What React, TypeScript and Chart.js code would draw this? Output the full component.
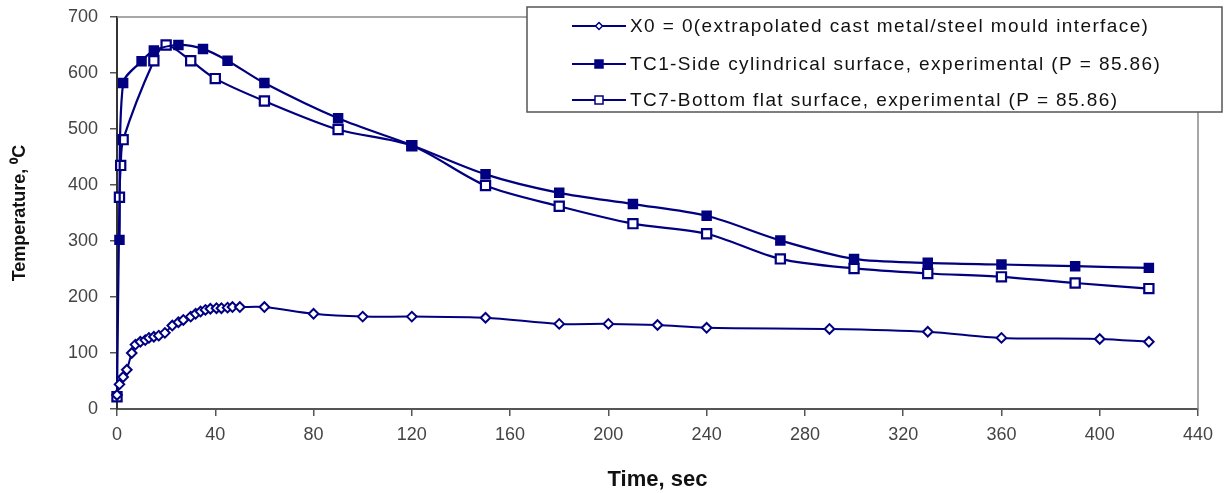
import React, { useEffect, useRef } from "react";
import { Chart, registerables } from "chart.js";

Chart.register(...registerables);

// ---- Data ----
const seriesLabels = [
  "X0 = 0(extrapolated cast metal/steel mould interface)",
  "TC1-Side cylindrical surface, experimental (P = 85.86)",
  "TC7-Bottom flat surface, experimental (P = 85.86)",
];

const x0Times = [0, 1, 2.5, 4, 6, 7.5, 9.5, 11.5, 13, 15, 17, 19.5, 22.5, 25, 27, 30, 32, 34, 36, 38, 40.5, 42.5, 45, 47, 50, 60, 80, 100, 120, 150, 180, 200, 220, 240, 290, 330, 360, 400, 420];
const x0Temps = [25, 44, 57, 70, 100, 115, 120, 123, 127, 129, 131, 136, 149, 155, 159, 165, 170, 174, 177, 179, 180, 180, 181, 182, 182, 182, 170, 165, 165, 163, 152, 152, 150, 145, 143, 138, 127, 125, 120];

const tc1Times = [1, 2.5, 10, 15, 25, 35, 45, 60, 90, 120, 150, 180, 210, 240, 270, 300, 330, 360, 390, 420];
const tc1Temps = [302, 582, 621, 640, 650, 643, 622, 582, 519, 471, 419, 386, 366, 345, 301, 268, 261, 258, 255, 252];

const tc7Times = [0, 1, 1.5, 2.5, 15, 20, 30, 40, 60, 90, 120, 150, 180, 210, 240, 270, 300, 330, 360, 390, 420];
const tc7Temps = [22, 378, 435, 481, 622, 650, 622, 590, 550, 499, 470, 399, 362, 331, 313, 268, 251, 242, 236, 225, 215];

const xTicks = [0, 40, 80, 120, 160, 200, 240, 280, 320, 360, 400, 440];
const yTicks = [0, 100, 200, 300, 400, 500, 600, 700];

const xTitle = "Time, sec";
const yTitle = "Temperature, \u2070C";

const NAVY = "#000080";
const FONT = "'Liberation Sans', Arial, sans-serif";

function toPoints(xs: number[], ys: number[]) {
  return xs.map((x, i) => ({ x, y: ys[i] }));
}

const frameAndLegend = {
  id: "frameAndLegend",
  beforeDatasetsDraw(chart: any) {
    const { ctx, chartArea } = chart;
    ctx.save();
    ctx.strokeStyle = "#8a8a8a";
    ctx.lineWidth = 1.5;
    ctx.beginPath();
    ctx.moveTo(chartArea.left, chartArea.top);
    ctx.lineTo(chartArea.right, chartArea.top);
    ctx.lineTo(chartArea.right, chartArea.bottom);
    ctx.stroke();
    ctx.restore();
  },
  afterDraw(chart: any) {
    const { ctx } = chart;
    const bx = 527, by = 7, bw = 695, bh = 105;
    ctx.save();
    ctx.fillStyle = "#ffffff";
    ctx.fillRect(bx, by, bw, bh);
    ctx.strokeStyle = "#555555";
    ctx.lineWidth = 1.5;
    ctx.strokeRect(bx, by, bw, bh);
    const rows = [26, 64, 100];
    chart.data.datasets.forEach((ds: any, i: number) => {
      const y = rows[i];
      ctx.strokeStyle = ds.borderColor;
      ctx.lineWidth = 2;
      ctx.beginPath();
      ctx.moveTo(572, y);
      ctx.lineTo(626, y);
      ctx.stroke();
      const cx = 599;
      ctx.lineWidth = 1.5;
      if (ds.pointStyle === "rectRot") {
        ctx.fillStyle = "#ffffff";
        ctx.beginPath();
        ctx.moveTo(cx, y - 3.5);
        ctx.lineTo(cx + 3.5, y);
        ctx.lineTo(cx, y + 3.5);
        ctx.lineTo(cx - 3.5, y);
        ctx.closePath();
        ctx.fill();
        ctx.stroke();
      } else {
        ctx.fillStyle = ds.pointBackgroundColor;
        ctx.fillRect(cx - 4, y - 4, 8, 8);
        ctx.strokeRect(cx - 4, y - 4, 8, 8);
      }
      ctx.fillStyle = "#111111";
      ctx.font = `19px ${FONT}`;
      (ctx as any).letterSpacing = "1.4px";
      ctx.textBaseline = "middle";
      ctx.textAlign = "left";
      ctx.fillText(ds.label, 630, y + 1);
      (ctx as any).letterSpacing = "0px";
    });
    ctx.restore();
  },
};

export default function App() {
  const canvasRef = useRef<HTMLCanvasElement | null>(null);

  useEffect(() => {
    const canvas = canvasRef.current;
    if (!canvas) return;
    const chart = new Chart(canvas, {
      type: "line",
      data: {
        datasets: [
          {
            label: seriesLabels[0],
            data: toPoints(x0Times, x0Temps),
            borderColor: NAVY,
            backgroundColor: "#ffffff",
            pointBackgroundColor: "#ffffff",
            pointBorderColor: NAVY,
            pointStyle: "rectRot",
            pointRadius: 4.8,
            pointBorderWidth: 2,
            borderWidth: 2,
            tension: 0.3,
            clip: false,
          },
          {
            label: seriesLabels[1],
            data: toPoints(tc1Times, tc1Temps),
            borderColor: NAVY,
            backgroundColor: NAVY,
            pointBackgroundColor: NAVY,
            pointBorderColor: NAVY,
            pointStyle: "rect",
            pointRadius: 6,
            pointBorderWidth: 2,
            borderWidth: 2.2,
            tension: 0.3,
            clip: false,
          },
          {
            label: seriesLabels[2],
            data: toPoints(tc7Times, tc7Temps),
            borderColor: NAVY,
            backgroundColor: "#ffffff",
            pointBackgroundColor: "#ffffff",
            pointBorderColor: NAVY,
            pointStyle: "rect",
            pointRadius: 6.5,
            pointBorderWidth: 2.2,
            borderWidth: 2.2,
            tension: 0.3,
            clip: false,
          },
        ],
      },
      options: {
        responsive: false,
        animation: false,
        layout: { padding: { top: 17, right: 33, left: 0, bottom: 0 } },
        plugins: {
          legend: { display: false },
          tooltip: { enabled: false },
        },
        scales: {
          x: {
            type: "linear",
            min: 0,
            max: 440,
            afterBuildTicks: (scale: any) => {
              scale.ticks = xTicks.map((v) => ({ value: v }));
            },
            afterFit: (scale: any) => {
              scale.height = 84;
              scale.paddingLeft = 0;
              scale.paddingRight = 0;
            },
            ticks: {
              color: "#444444",
              font: { family: FONT, size: 18 },
              padding: 8,
              maxRotation: 0,
            },
            grid: { drawOnChartArea: false, drawTicks: true, tickLength: 7, color: "#555555", lineWidth: 1.5 },
            border: { display: true, color: "#555555", width: 2 },
            title: {
              display: true,
              text: xTitle,
              color: "#111111",
              font: { family: FONT, size: 22, weight: "bold" },
              padding: { top: 0, bottom: 0 },
            },
          },
          y: {
            type: "linear",
            min: 0,
            max: 700,
            afterBuildTicks: (scale: any) => {
              scale.ticks = yTicks.map((v) => ({ value: v }));
            },
            afterFit: (scale: any) => {
              scale.width = 117;
              scale.paddingTop = 0;
              scale.paddingBottom = 0;
            },
            ticks: {
              color: "#444444",
              font: { family: FONT, size: 18 },
              padding: 12,
            },
            grid: { drawOnChartArea: false, drawTicks: true, tickLength: 7, color: "#555555", lineWidth: 1.5 },
            border: { display: true, color: "#333333", width: 2 },
            title: {
              display: true,
              text: yTitle,
              color: "#111111",
              font: { family: FONT, size: 18, weight: "bold" },
              padding: { top: 9, bottom: 0 },
            },
          },
        },
      },
      plugins: [frameAndLegend],
    } as any);
    return () => chart.destroy();
  }, []);

  return (
    <div style={{ position: "fixed", left: 0, top: 0, width: 1231, height: 493, background: "#ffffff" }}>
      <canvas ref={canvasRef} width={1231} height={493} style={{ display: "block" }} />
    </div>
  );
}
